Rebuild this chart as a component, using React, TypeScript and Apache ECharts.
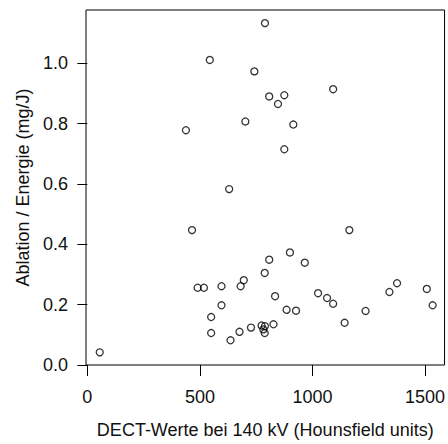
import React, { useEffect, useRef } from "react";
import * as echarts from "echarts";

const xValues = [
  789, 544, 742, 1092, 808, 875, 847, 702, 915, 438, 875, 630,
  465, 1164, 900, 808, 966, 788, 695, 681, 490, 518, 596, 1376,
  1342, 1508, 1025, 1065, 1092, 834, 596, 1534, 885, 927, 1236, 550,
  1143, 550, 636, 676, 727, 774, 827, 788, 789, 782, 55,
];
const yValues = [
  1.133, 1.011, 0.973, 0.914, 0.89, 0.894, 0.865, 0.807, 0.797, 0.778, 0.715, 0.583,
  0.447, 0.447, 0.373, 0.349, 0.339, 0.305, 0.281, 0.261, 0.256, 0.256, 0.261, 0.271,
  0.242, 0.252, 0.238, 0.222, 0.203, 0.228, 0.198, 0.198, 0.183, 0.18, 0.179, 0.159,
  0.14, 0.106, 0.082, 0.11, 0.124, 0.131, 0.135, 0.106, 0.129, 0.118, 0.042,
];
const xTicks = [0, 500, 1000, 1500];
const yTicks = [0, 0.2, 0.4, 0.6, 0.8, 1.0];
const xTitle = "DECT-Werte bei 140 kV (Hounsfield units)";
const yTitle = "Ablation / Energie (mg/J)";

const FONT = "Liberation Sans, Arial, sans-serif";
const TEXT_COLOR = "#111";

export default function App() {
  const ref = useRef<HTMLDivElement>(null);
  useEffect(() => {
    if (!ref.current) return;
    const chart = echarts.init(ref.current, undefined, { renderer: "svg" });
    const data = xValues.map((x, i) => [x, yValues[i]]);
    chart.setOption({
      animation: false,
      backgroundColor: "#fff",
      grid: {
        left: 86,
        top: 10,
        width: 360,
        height: 360,
        show: true,
        borderColor: "#000",
        borderWidth: 1,
        backgroundColor: "transparent",
      },
      xAxis: {
        type: "value",
        min: -6,
        max: 1587,
        name: xTitle,
        nameLocation: "middle",
        nameGap: 56,
        nameTextStyle: { fontFamily: FONT, fontSize: 18, color: TEXT_COLOR },
        axisLine: { show: false },
        splitLine: { show: false },
        axisTick: {
          show: true,
          length: 11,
          inside: false,
          customValues: xTicks,
          lineStyle: { color: "#000", width: 1 },
        },
        axisLabel: {
          customValues: xTicks,
          margin: 23,
          fontFamily: FONT,
          fontSize: 18,
          color: TEXT_COLOR,
          formatter: (v: number) => String(v),
        },
      },
      yAxis: {
        type: "value",
        min: 0,
        max: 1.1765,
        name: yTitle,
        nameLocation: "middle",
        nameRotate: 90,
        nameGap: 51,
        nameTextStyle: { fontFamily: FONT, fontSize: 18, color: TEXT_COLOR },
        axisLine: { show: false },
        splitLine: { show: false },
        axisTick: {
          show: true,
          length: 10,
          inside: false,
          customValues: yTicks,
          lineStyle: { color: "#000", width: 1 },
        },
        axisLabel: {
          customValues: yTicks,
          margin: 18,
          fontFamily: FONT,
          fontSize: 18,
          color: TEXT_COLOR,
          formatter: (v: number) => v.toFixed(1),
        },
      },
      series: [
        {
          type: "scatter",
          data,
          symbol: "circle",
          symbolSize: 7,
          itemStyle: {
            color: "rgba(255,255,255,0)",
            borderColor: "#000",
            borderWidth: 1.3,
          },
        },
      ],
    });
    return () => chart.dispose();
  }, []);
  return (
    <div
      ref={ref}
      style={{ position: "absolute", left: 0, top: 0, width: 448, height: 444 }}
    />
  );
}
